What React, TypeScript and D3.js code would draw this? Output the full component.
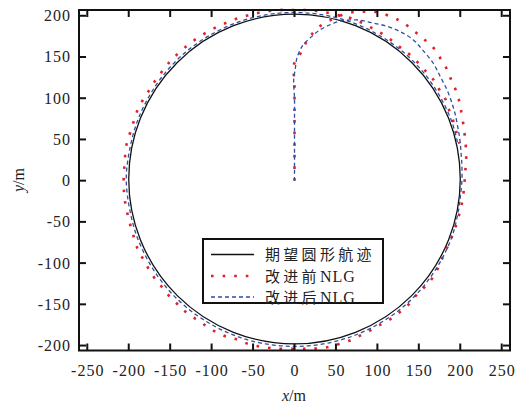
import React from "react";
import * as d3 from "d3";

const X_TICKS = [-250, -200, -150, -100, -50, 0, 50, 100, 150, 200, 250];
const Y_TICKS = [-200, -150, -100, -50, 0, 50, 100, 150, 200];
const X_DOMAIN = [-260, 260];
const Y_DOMAIN = [-206, 207];

const DESIRED_CENTER = [0, 2];
const DESIRED_RADIUS = 200;

const LEGEND_LABELS = ["期望圆形航迹", "改进前", "改进后"];

// 改进前NLG (before improvement)
const redPts: [number, number][] = [
  [0, 0], [0, 20], [0, 40], [0, 60], [0, 80], [0, 100], [0, 120], [-1, 140], [6, 152], [12, 164], [18, 174],
  [24, 181], [33, 189], [44, 195], [55, 200], [68, 204], [82, 205], [95, 205], [108, 202], [121, 197], [132, 191],
  [146, 180], [157, 171], [167, 162], [175, 150], [182, 139], [187, 127], [192, 116], [197, 103], [200, 90],
  [204, 66], [207, 37], [207, 23], [206, 11], [205, -3], [203, -22], [200, -36], [195, -54], [189, -70],
  [181, -88], [174, -104], [168, -116], [160, -126], [153, -133], [145, -141], [136, -152], [125, -161],
  [114, -169], [103, -175], [93, -181], [81, -187], [69, -193], [57, -197], [45, -201], [33, -203], [19, -204],
  [7, -204], [-15, -204], [-29, -203], [-43, -201], [-56, -198], [-68, -193], [-80, -190], [-92, -185],
  [-104, -178], [-114, -171], [-125, -164], [-135, -156], [-142, -149], [-152, -139], [-160, -129],
  [-169, -118], [-176, -107], [-182, -96], [-188, -86], [-193, -71], [-197, -58], [-200, -46], [-203, -34],
  [-205, -21], [-206, -8], [-206, 7], [-205, 20], [-204, 34], [-202, 47], [-198, 59], [-194, 72], [-190, 84],
  [-184, 96], [-177, 107], [-171, 117], [-163, 128], [-155, 139], [-147, 148], [-134, 160], [-120, 171],
  [-104, 181], [-88, 189], [-71, 196], [-54, 201], [-36, 205], [-17, 207], [-3, 207], [12, 207], [25, 206],
  [38, 204], [51, 201], [65, 198], [76, 194], [88, 188], [99, 182], [111, 175], [121, 167], [131, 159],
  [140, 152], [150, 142], [159, 132], [168, 122], [175, 110], [182, 99], [186, 87], [191, 74], [195, 60], [199, 45],
];

// 改进后NLG (after improvement)
const bluePts: [number, number][] = [
  [0, 0], [0, 20], [0, 40], [0, 60], [0, 80], [0, 100], [-1, 122], [1, 136], [3, 149], [10, 164], [21, 175],
  [31, 183], [45, 190], [57, 194], [75, 195], [91, 192], [109, 188], [127, 181], [143, 171], [155, 158],
  [167, 143], [176, 126], [184, 110], [190, 94], [194, 80], [197, 65], [199.5, 50], [201, 33], [202, 17],
  [202, 0], [200, -20], [198, -35], [190, -68], [175, -100], [155, -129], [130, -154], [101, -174], [69, -189],
  [35, -198], [0, -201], [-35, -198], [-69, -189], [-101, -174], [-130, -154], [-155, -129], [-175, -100],
  [-190, -68], [-199, -34], [-203, 2], [-199, 37], [-190, 71], [-175, 103], [-155, 132], [-130, 157],
  [-101, 177], [-69, 192], [-35, 201], [0, 204], [35, 201], [69, 192], [101, 177], [130, 157], [155, 132],
  [175, 103], [190, 71], [197, 45],
];

const RED = "#e0202a";
const BLUE = "#2f4e9e";

export default function App() {
  const L = 79, R = 510, T = 10, B = 350.5;
  const x = d3.scaleLinear().domain(X_DOMAIN).range([L, R]);
  const y = d3.scaleLinear().domain(Y_DOMAIN).range([B, T]);
  const line = d3
    .line<[number, number]>()
    .x((d) => x(d[0]))
    .y((d) => y(d[1]))
    .curve(d3.curveCatmullRom.alpha(0.5));

  const tickLen = 7;
  const serif = "'Liberation Serif', 'Times New Roman', serif";
  const cjk = "'Noto Sans CJK SC', sans-serif";

  const lx = 203, ly = 239, lw = 180, lh = 64;
  const rows = [254.5, 276, 297];

  return (
    <svg
      width={518}
      height={405}
      style={{ position: "absolute", left: 0, top: 0, background: "#fff" }}
    >
      <rect x={0} y={0} width={518} height={405} fill="#fff" />
      {/* desired circle */}
      <ellipse
        cx={x(DESIRED_CENTER[0])}
        cy={y(DESIRED_CENTER[1])}
        rx={x(DESIRED_RADIUS) - x(0)}
        ry={y(0) - y(DESIRED_RADIUS)}
        fill="none"
        stroke="#111"
        strokeWidth={1.3}
      />
      <path d={line(redPts) || ""} fill="none" stroke={RED} strokeWidth={2.6} strokeDasharray="2.6 9" />
      <path d={line(bluePts) || ""} fill="none" stroke={BLUE} strokeWidth={1.3} strokeDasharray="4 3" />

      {/* frame */}
      <rect x={L} y={T} width={R - L} height={B - T} fill="none" stroke="#111" strokeWidth={2} />
      {X_TICKS.map((t) => (
        <g key={"x" + t}>
          <line x1={x(t)} x2={x(t)} y1={B} y2={B - tickLen} stroke="#111" strokeWidth={2} />
          <line x1={x(t)} x2={x(t)} y1={T} y2={T + tickLen} stroke="#111" strokeWidth={2} />
          <text x={x(t) + 0.5} y={376} textAnchor="middle" fontFamily={serif} fontSize={16} letterSpacing={1} fill="#222">
            {t}
          </text>
        </g>
      ))}
      {Y_TICKS.map((t) => (
        <g key={"y" + t}>
          <line x1={L} x2={L + tickLen} y1={y(t)} y2={y(t)} stroke="#111" strokeWidth={2} />
          <line x1={R} x2={R - tickLen} y1={y(t)} y2={y(t)} stroke="#111" strokeWidth={2} />
          <text x={71} y={y(t) + 5.5} textAnchor="end" fontFamily={serif} fontSize={16} letterSpacing={1} fill="#222">
            {t}
          </text>
        </g>
      ))}

      {/* axis titles */}
      <text x={294} y={401} textAnchor="middle" fontFamily={serif} fontSize={16} fill="#222">
        <tspan fontStyle="italic">x</tspan>/m
      </text>
      <text
        transform={`translate(24,${180}) rotate(-90)`}
        textAnchor="middle"
        fontFamily={serif}
        fontSize={16}
        fill="#222"
      >
        <tspan fontStyle="italic">y</tspan>/m
      </text>

      {/* legend */}
      <rect x={lx} y={ly} width={lw} height={lh} fill="#fff" stroke="#111" strokeWidth={2} />
      <line x1={211} x2={254} y1={rows[0]} y2={rows[0]} stroke="#111" strokeWidth={1.5} />
      <line x1={211} x2={254} y1={rows[1]} y2={rows[1]} stroke={RED} strokeWidth={2.6} strokeDasharray="2.6 9" />
      <line x1={211} x2={254} y1={rows[2]} y2={rows[2]} stroke={BLUE} strokeWidth={1.3} strokeDasharray="4 3" />
      <text x={265} y={rows[0] + 5.5} fontFamily={cjk} fontSize={15} letterSpacing={3.3} fill="#222">
        {LEGEND_LABELS[0]}
      </text>
      <text x={265} y={rows[1] + 5.5} fontFamily={cjk} fontSize={15} letterSpacing={3.3} fill="#222">
        {LEGEND_LABELS[1]}
        <tspan fontFamily={serif} fontSize={16} letterSpacing={1}>NLG</tspan>
      </text>
      <text x={265} y={rows[2] + 5.5} fontFamily={cjk} fontSize={15} letterSpacing={3.3} fill="#222">
        {LEGEND_LABELS[2]}
        <tspan fontFamily={serif} fontSize={16} letterSpacing={1}>NLG</tspan>
      </text>
    </svg>
  );
}
